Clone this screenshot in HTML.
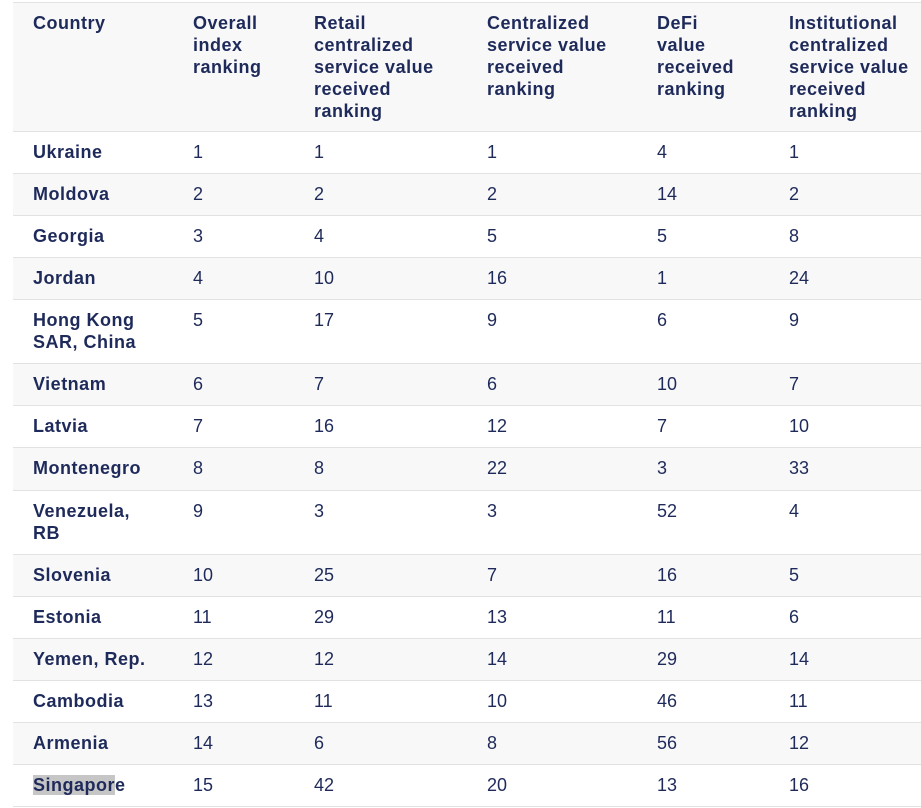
<!DOCTYPE html>
<html><head><meta charset="utf-8"><style>
body{margin:0;width:921px;height:808px;background:#fff;overflow:hidden;font-family:"Liberation Sans",sans-serif;color:#1e2a5a}
.r{position:absolute;left:13px;width:908px;border-top:1px solid #e2e2e2;box-sizing:border-box}
.g{background:#f8f8f8}
.c{position:absolute;top:9px;font-size:18px;line-height:22px}
.b{font-weight:bold;letter-spacing:0.5px}
.h{background:#c6c6c6}
</style></head><body>
<div class="r g" style="top:2px;height:129px">
<div class="c b" style="left:20px">Country</div>
<div class="c b" style="left:180px">Overall<br>index<br>ranking</div>
<div class="c b" style="left:301px">Retail<br>centralized<br>service value<br>received<br>ranking</div>
<div class="c b" style="left:474px">Centralized<br>service value<br>received<br>ranking</div>
<div class="c b" style="left:644px">DeFi<br>value<br>received<br>ranking</div>
<div class="c b" style="left:776px">Institutional<br>centralized<br>service value<br>received<br>ranking</div>
</div>
<div id="rows"></div>
<div class="r" style="top:806px;height:2px"></div>
<script>
var d=[["Ukraine",1,1,1,4,1,131,42],["Moldova",2,2,2,14,2,173,42],["Georgia",3,4,5,5,8,215,42],["Jordan",4,10,16,1,24,257,42],["Hong Kong<br>SAR, China",5,17,9,6,9,299,64],["Vietnam",6,7,6,10,7,363,42],["Latvia",7,16,12,7,10,405,42],["Montenegro",8,8,22,3,33,447,43],["Venezuela,<br>RB",9,3,3,52,4,490,64],["Slovenia",10,25,7,16,5,554,42],["Estonia",11,29,13,11,6,596,42],["Yemen, Rep.",12,12,14,29,14,638,42],["Cambodia",13,11,10,46,11,680,42],["Armenia",14,6,8,56,12,722,42],['<span class="h">Singapor</span>e',15,42,20,13,16,764,42]];
var h="",x=[180,301,474,644,776];
d.forEach(function(r,i){h+='<div class="r'+(i%2?' g':'')+'" style="top:'+r[6]+'px;height:'+r[7]+'px"><div class="c b" style="left:20px">'+r[0]+'</div>';for(var j=0;j<5;j++)h+='<div class="c" style="left:'+x[j]+'px">'+r[j+1]+'</div>';h+='</div>';});
document.getElementById("rows").innerHTML=h;
</script>
</body></html>
